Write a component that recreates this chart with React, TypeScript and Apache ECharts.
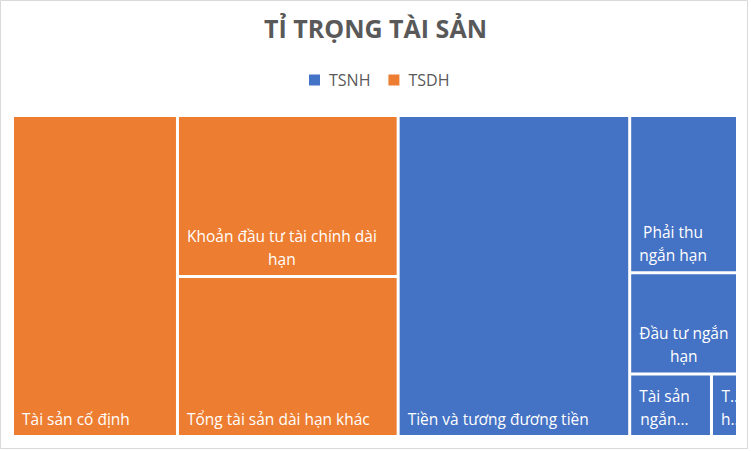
import { useEffect, useRef } from "react";
import * as echarts from "echarts";

const groupNames = ["TSDH", "TSNH"];
const legendNames = ["TSNH", "TSDH"];
const groupColors: Record<string, string> = { TSNH: "#4472C4", TSDH: "#ED7D31" };

const longTermNames = ["Tài sản cố định", "Khoản đầu tư tài chính dài hạn", "Tổng tài sản dài hạn khác"];
const longTermValues = [22.8, 15.3, 15.2];

const shortTermNames = ["Tiền và tương đương tiền", "Phải thu ngắn hạn", "Đầu tư ngắn hạn", "Tài sản ngắn hạn khác", "Thuế hoàn lại"];
const shortTermValues = [32.0, 7.3, 4.7, 2.2, 0.7];

const FONT = "'Open Sans', 'Noto Sans', sans-serif";
const LABEL_SIZE = 15.5;
const LINE_H = 23;
const PAD_LEFT = 8;
const PAD_RIGHT = 2;
const PAD_BOTTOM = 5;

// zrender measures non-latin glyphs as wide chars, so Vietnamese labels wrap too early.
// Wrap them ourselves with a real canvas measurement instead (Excel-like: words, then "...").
const wrapLabel = (ctx: CanvasRenderingContext2D, text: string, maxW: number, maxLines: number) => {
    const fit = (s: string) => ctx.measureText(s).width <= maxW;
    const words = text.split(" ");
    const lines: string[] = [];
    let i = 0;
    while (i < words.length && lines.length < maxLines) {
        let line = [words[i++]];
        while (i < words.length && fit([...line, words[i]].join(" "))) line.push(words[i++]);
        const isLast = lines.length === maxLines - 1;
        if (!fit(line.join(" ")) || (isLast && i < words.length)) {
            while (line.length > 1 && !fit(line.join(" ") + "...")) line = line.slice(0, -1);
            let s = line.join(" ");
            while (s.length > 1 && !fit(s + "...")) s = s.slice(0, -1);
            lines.push(s + "...");
        } else {
            lines.push(line.join(" "));
        }
    }
    return lines;
};

interface LabelFix {
    text: string;
    blockWidth: number;
}

const App = () => {
    const chartRef = useRef<HTMLDivElement>(null);

    useEffect(() => {
        if (!chartRef.current) return;
        const chart = echarts.init(chartRef.current, null, { renderer: "svg" });

        const buildOption = (fixes: Record<string, LabelFix>) => {
            const children = (names: string[], values: number[]) =>
                names.map((name, i) => {
                    const fix = fixes[name];
                    return fix
                        ? {
                              name,
                              value: values[i],
                              // lines are centred inside a left-aligned block, as Excel does
                              label: { align: "center", offset: [PAD_LEFT + fix.blockWidth / 2, 0] },
                          }
                        : { name, value: values[i] };
                });

            const treeData = groupNames.map((g) => ({
                name: g,
                itemStyle: { color: groupColors[g] },
                children: g === "TSDH"
                    ? children(longTermNames, longTermValues)
                    : children(shortTermNames, shortTermValues),
            }));

            return {
                animation: false,
                title: {
                    text: "TỈ TRỌNG TÀI SẢN",
                    left: "center",
                    top: 10,
                    textStyle: { fontFamily: FONT, fontSize: 25, fontWeight: "bold", color: "#595959" },
                },
                legend: {
                    data: legendNames,
                    top: 67,
                    left: 304,
                    icon: "rect",
                    itemWidth: 11,
                    itemHeight: 11,
                    itemGap: 18,
                    selectedMode: false,
                    textStyle: { fontFamily: FONT, fontSize: 16, color: "#595959", padding: [0, 0, 0, 4] },
                },
                grid: { show: false, left: 0, top: 0, width: 1, height: 1 },
                xAxis: { show: false, type: "value" },
                yAxis: { show: false, type: "value" },
                graphic: [
                    {
                        type: "rect",
                        shape: { x: 0.5, y: 0.5, width: 747, height: 448 },
                        style: { fill: "none", stroke: "#D9D9D9", lineWidth: 1 },
                        silent: true,
                    },
                ],
                series: [
                    ...legendNames.map((n) => ({
                        type: "line",
                        name: n,
                        data: [],
                        itemStyle: { color: groupColors[n] },
                    })),
                    {
                        type: "treemap",
                        left: 14,
                        top: 117,
                        width: 722,
                        height: 318,
                        roam: false,
                        nodeClick: false,
                        squareRatio: 1,
                        visibleMin: 0,
                        breadcrumb: { show: false },
                        upperLabel: { show: false },
                        label: {
                            show: true,
                            position: "insideBottomLeft",
                            distance: 0,
                            color: "#fff",
                            fontFamily: FONT,
                            fontSize: LABEL_SIZE,
                            lineHeight: LINE_H,
                            overflow: "none",
                            padding: [0, 0, PAD_BOTTOM, 0],
                            formatter: (p: any) => fixes[p.name]?.text ?? p.name,
                        },
                        itemStyle: { borderWidth: 0, gapWidth: 3, borderColor: "#fff" },
                        levels: [
                            { itemStyle: { borderWidth: 0, gapWidth: 3, borderColor: "#fff" } },
                            { itemStyle: { borderWidth: 0, gapWidth: 3, borderColor: "#fff" } },
                            { itemStyle: { borderWidth: 0, gapWidth: 0 } },
                        ],
                        data: treeData,
                    },
                ],
            };
        };

        chart.setOption(buildOption({}));

        // second pass: wrap each leaf's name to the box the treemap gave it
        try {
            const fixes: Record<string, LabelFix> = {};
            const ctx = document.createElement("canvas").getContext("2d")!;
            ctx.font = `${LABEL_SIZE}px ${FONT}`;
            const series = (chart as any).getModel().getSeriesByType("treemap")[0];
            const data = series.getData();
            const leafNames = [...longTermNames, ...shortTermNames];
            data.each((idx: number) => {
                const name = data.getName(idx);
                const l = data.getItemLayout(idx);
                if (!l || !leafNames.includes(name)) return;
                const maxW = l.width - PAD_LEFT - PAD_RIGHT;
                const maxLines = Math.max(1, Math.floor((l.height - PAD_BOTTOM) / LINE_H));
                const lines = wrapLabel(ctx, name, maxW, maxLines);
                fixes[name] = {
                    text: lines.join("\n"),
                    blockWidth: Math.max(...lines.map((s) => ctx.measureText(s).width)),
                };
            });
            chart.setOption(buildOption(fixes), true);
        } catch (e) {
            // keep the first pass
        }

        return () => {
            chart.dispose();
        };
    }, []);

    return (
        <div
            ref={chartRef}
            style={{ position: "fixed", left: 0, top: 0, width: "751px", height: "451px", background: "#fff" }}
        />
    );
};

export default App;
